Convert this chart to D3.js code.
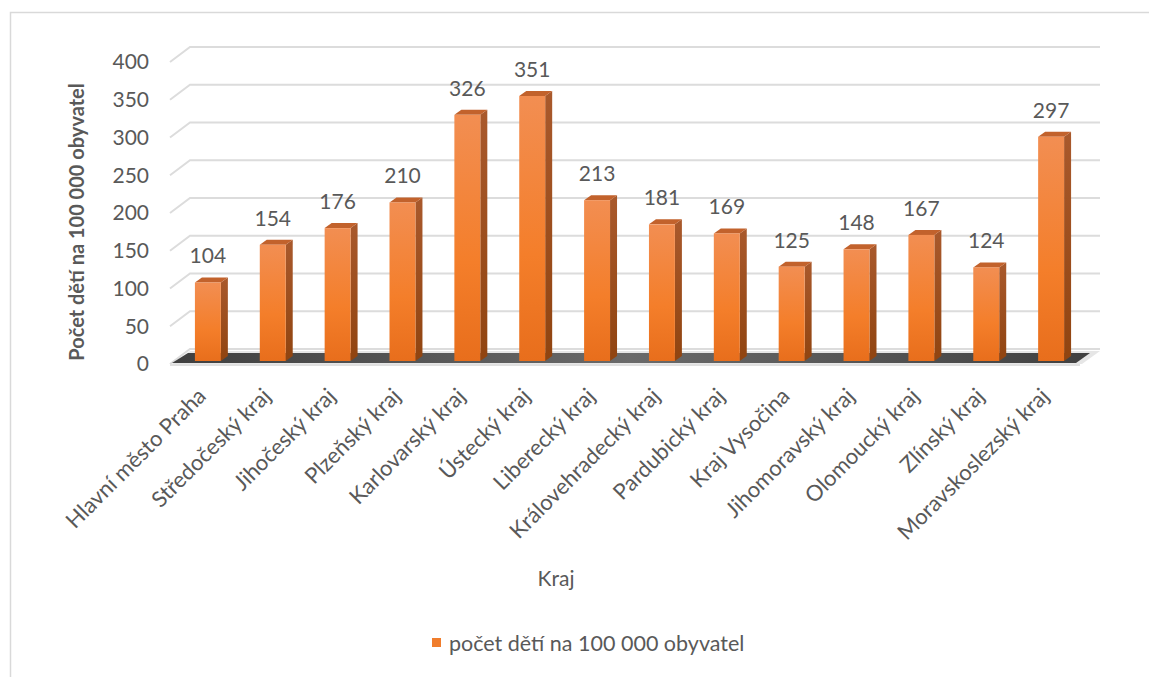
<!DOCTYPE html>
<html>
<head>
<meta charset="utf-8">
<script src="https://cdn.jsdelivr.net/npm/d3@7"></script>
<style>
body { margin: 0; background: #fff; }
text { font-family: Lato, "Open Sans", sans-serif; fill: #595959; }
</style>
</head>
<body>
<script>
const kraje = ['Hlavní město Praha','Středočeský kraj','Jihočeský kraj','Plzeňský kraj','Karlovarský kraj','Ústecký kraj','Liberecký kraj','Královehradecký kraj','Pardubický kraj','Kraj Vysočina','Jihomoravský kraj','Olomoucký kraj','Zlínský kraj','Moravskoslezský kraj'];
const hodnoty = [104,154,176,210,326,351,213,181,169,125,148,167,124,297];
const ticks = [0,50,100,150,200,250,300,350,400];
const serie = 'počet dětí na 100 000 obyvatel';

const svg = d3.select('body').append('svg')
              .attr('width',1149)
              .attr('height',677);

// frame
svg.append('path').attr('d','M10.5,677 V12.5 H1149').style('fill','none').style('stroke','#d9d9d9').style('stroke-width',1.5);

const defs = svg.append('defs');
const gFront = defs.append('linearGradient').attr('id','front').attr('x1',0).attr('y1',0).attr('x2',0).attr('y2',1);
gFront.append('stop').attr('offset','0%').attr('stop-color','#F28E52');
gFront.append('stop').attr('offset','60%').attr('stop-color','#F47E2A');
gFront.append('stop').attr('offset','100%').attr('stop-color','#E86E1C');
const gSide = defs.append('linearGradient').attr('id','side').attr('x1',0).attr('y1',0).attr('x2',0).attr('y2',1);
gSide.append('stop').attr('offset','0%').attr('stop-color','#A9592C');
gSide.append('stop').attr('offset','100%').attr('stop-color','#904410');
const gFloor = defs.append('linearGradient').attr('id','floor').attr('x1',0).attr('y1',0).attr('x2',1).attr('y2',0);
gFloor.append('stop').attr('offset','0%').attr('stop-color','#3f3f3f');
gFloor.append('stop').attr('offset','50%').attr('stop-color','#6a6a6a');
gFloor.append('stop').attr('offset','100%').attr('stop-color','#404040');

// depth of the 3D box
const dx = 20, dy = -15;
const yBack = d3.scaleLinear().domain([0,400]).range([349,47]);
const yBar = d3.scaleLinear().domain([0,400]).range([361,59]);
const x = d3.scaleBand().domain(kraje).range([156,1103]).paddingInner(0.6).paddingOuter(0.6);

// gridlines: back wall + left diagonal
const grid = svg.append('g');
grid.selectAll('path').data(ticks).join('path')
    .attr('d', d => `M170,${yBack(d)-dy} L190,${yBack(d)} H1100`)
    .style('fill','none').style('stroke','#dcdcdc').style('stroke-width',2);

// floor
svg.append('path')
   .attr('d', `M172,364 L190,351 H1100 L1082,364 Z`)
   .style('fill','#e6e6e6');
svg.append('path')
   .attr('d', `M172,363 L188,353 H1090 L1076,363 Z`)
   .style('fill','url(#floor)');
svg.append('line').attr('x1',170).attr('x2',1080).attr('y1',365).attr('y2',365).style('stroke','#e0e0e0').style('stroke-width',2);

// y tick labels
svg.append('g').selectAll('text').data(ticks).join('text')
   .attr('x',149).attr('y', d => yBack(d)-dy)
   .attr('dy','0.35em')
   .attr('text-anchor','end')
   .style('font-size','21px')
   .text(d => d);

// bars
const bw = x.bandwidth(), bdx = 7, bdy = -5;
const bars = svg.append('g').selectAll('g').data(hodnoty).join('g');
bars.append('path')
    .attr('d', (d,i) => { const x0 = x(kraje[i])+bw, y0 = yBar(d), y1 = yBar(0);
      return `M${x0},${y0} L${x0+bdx},${y0+bdy} V${y1+bdy} L${x0},${y1} Z`; })
    .style('fill','url(#side)');
bars.append('path')
    .attr('d', (d,i) => { const x0 = x(kraje[i]), y0 = yBar(d);
      return `M${x0},${y0} L${x0+bdx},${y0+bdy} H${x0+bw+bdx} L${x0+bw},${y0} Z`; })
    .style('fill','#C2622C');
bars.append('rect')
    .attr('x', (d,i) => x(kraje[i]))
    .attr('y', d => yBar(d))
    .attr('width', bw)
    .attr('height', d => yBar(0)-yBar(d))
    .style('fill','url(#front)');
bars.append('text')
    .attr('x', (d,i) => x(kraje[i])+bw/2)
    .attr('y', d => yBar(d)-19)
    .attr('text-anchor','middle')
    .style('font-size','21px')
    .text(d => d);

// category labels
svg.append('g').selectAll('text').data(kraje).join('text')
   .attr('transform', d => `translate(${x(d)+bw/2-6},392) rotate(-45)`)
   .attr('text-anchor','end')
   .attr('dy','0.35em')
   .style('font-size','22px')
   .text(d => d);

// axis titles
svg.append('text')
   .attr('transform','translate(84,222) rotate(-90)')
   .attr('text-anchor','middle')
   .style('font-size','20px').style('font-weight','bold')
   .text('Počet dětí na 100 000 obyvatel');
svg.append('text')
   .attr('x',556).attr('y',586)
   .attr('text-anchor','middle')
   .style('font-size','21px')
   .text('Kraj');

// legend
const legend = svg.append('g').attr('transform','translate(432,638)');
legend.append('rect').attr('width',9).attr('height',9).style('fill','#F07D2C');
legend.append('text').attr('x',17).attr('y',5).attr('dy','0.35em').style('font-size','21.5px').text(serie);
</script>
</body>
</html>
